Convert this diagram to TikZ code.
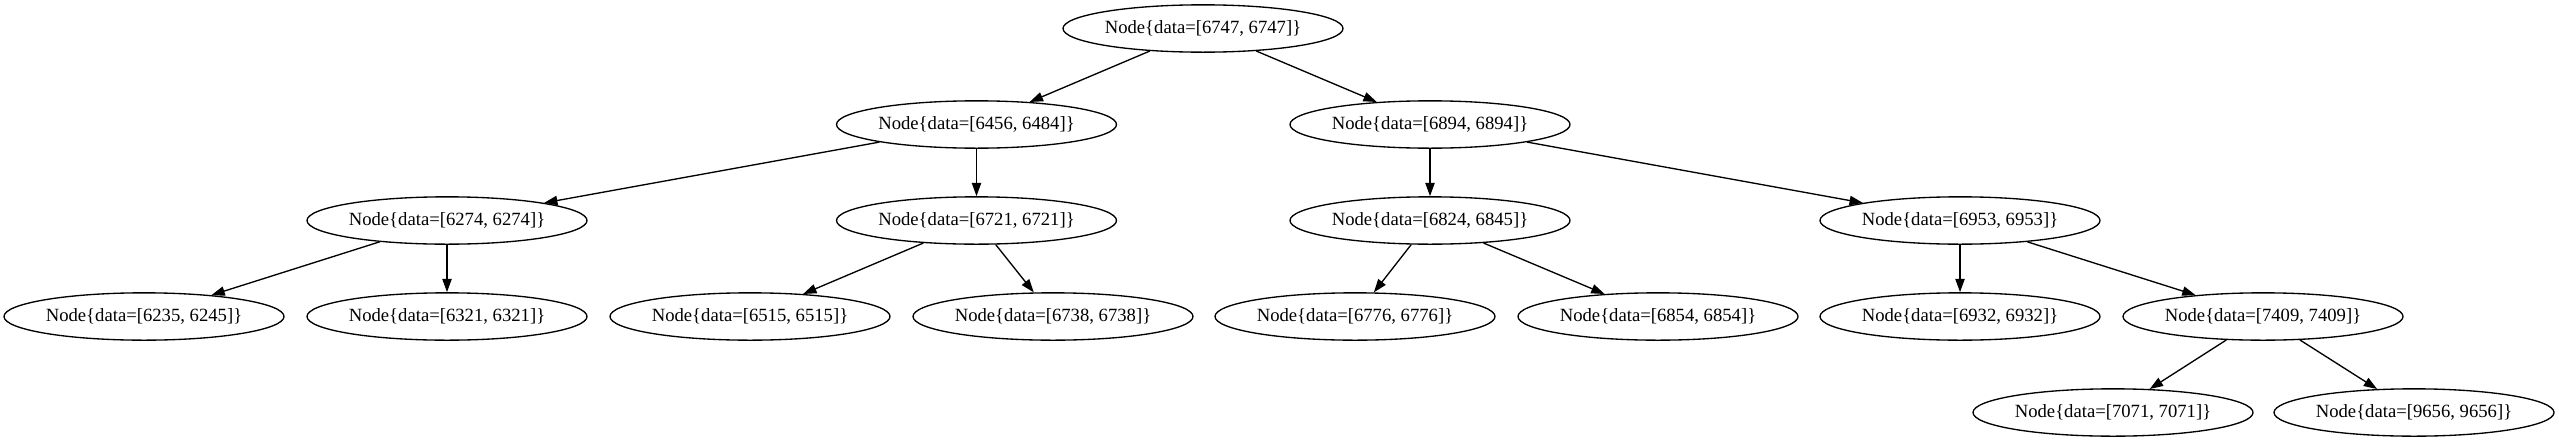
\documentclass[tikz,border=0pt]{standalone}
\usepackage{fontspec}
\setmainfont{Liberation Serif}
\usetikzlibrary{shapes.geometric,arrows.meta}
\begin{document}
\begin{tikzpicture}[x=0.75pt,y=-0.75pt,
  tnode/.style={draw=black, line width=1pt, ellipse, minimum width=210pt, minimum height=35.5pt, inner sep=0pt, font=\fontsize{14pt}{16pt}\selectfont},
  edge/.style={draw=black, line width=1pt, -{Triangle[length=10pt,width=7pt]}}]
\useasboundingbox (0,0) rectangle (2559,443);
\node[tnode] (r)    at (1203,28.5)  {Node\{data=[6747, 6747]\}};
\node[tnode] (a)    at (976.5,124.5) {Node\{data=[6456, 6484]\}};
\node[tnode] (b)    at (1430,124.5) {Node\{data=[6894, 6894]\}};
\node[tnode] (aa)   at (447,220.5)  {Node\{data=[6274, 6274]\}};
\node[tnode] (ab)   at (976.5,220.5) {Node\{data=[6721, 6721]\}};
\node[tnode] (ba)   at (1430,220.5) {Node\{data=[6824, 6845]\}};
\node[tnode] (bb)   at (1960,220.5) {Node\{data=[6953, 6953]\}};
\node[tnode] (aaa)  at (144,316.5)  {Node\{data=[6235, 6245]\}};
\node[tnode] (aab)  at (447,316.5)  {Node\{data=[6321, 6321]\}};
\node[tnode] (aba)  at (750,316.5)  {Node\{data=[6515, 6515]\}};
\node[tnode] (abb)  at (1053,316.5) {Node\{data=[6738, 6738]\}};
\node[tnode] (baa)  at (1355,316.5) {Node\{data=[6776, 6776]\}};
\node[tnode] (bab)  at (1658,316.5) {Node\{data=[6854, 6854]\}};
\node[tnode] (bba)  at (1960,316.5) {Node\{data=[6932, 6932]\}};
\node[tnode] (bbb)  at (2263,316.5) {Node\{data=[7409, 7409]\}};
\node[tnode] (bbba) at (2113,412.5) {Node\{data=[7071, 7071]\}};
\node[tnode] (bbbb) at (2414,412.5) {Node\{data=[9656, 9656]\}};
\draw[edge] (r) -- (a);
\draw[edge] (r) -- (b);
\draw[edge] (a) -- (aa);
\draw[edge] (a) -- (ab);
\draw[edge] (b) -- (ba);
\draw[edge] (b) -- (bb);
\draw[edge] (aa) -- (aaa);
\draw[edge] (aa) -- (aab);
\draw[edge] (ab) -- (aba);
\draw[edge] (ab) -- (abb);
\draw[edge] (ba) -- (baa);
\draw[edge] (ba) -- (bab);
\draw[edge] (bb) -- (bba);
\draw[edge] (bb) -- (bbb);
\draw[edge] (bbb) -- (bbba);
\draw[edge] (bbb) -- (bbbb);
\end{tikzpicture}
\end{document}
